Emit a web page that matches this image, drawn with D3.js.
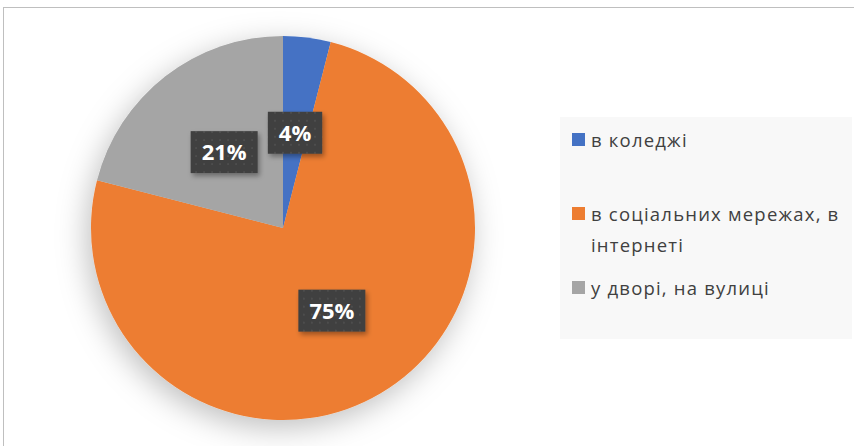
<!DOCTYPE html>
<html>
<head>
<meta charset="utf-8">
<script src="https://cdn.jsdelivr.net/npm/d3@7"></script>
<style>
  body { margin: 0; background: #fff; }
  svg { display: block; }
</style>
</head>
<body>
<div id="chart"></div>
<script>
// Data
const categories = ['в коледжі', 'в соціальних мережах, в інтернеті', 'у дворі, на вулиці'];
const legendLines = [['в коледжі'], ['в соціальних мережах, в', 'інтернеті'], ['у дворі, на вулиці']];
const values = [4, 75, 21];
const colors = ['#4472C4', '#ED7D31', '#A5A5A5'];

const W = 854, H = 446;
const cx = 283, cy = 228, radius = 192;

const svg = d3.select('#chart')
    .append('svg')
    .attr('width', W)
    .attr('height', H);

const defs = svg.append('defs');

// soft shadow under the pie
const pieShadow = defs.append('filter')
    .attr('id', 'pie-shadow')
    .attr('x', '-40%').attr('y', '-40%')
    .attr('width', '180%').attr('height', '180%');
pieShadow.append('feDropShadow')
    .attr('dx', -4).attr('dy', 8)
    .attr('stdDeviation', 15)
    .attr('flood-color', '#000')
    .attr('flood-opacity', 0.25);

// shadow for label boxes
const boxShadow = defs.append('filter')
    .attr('id', 'box-shadow')
    .attr('x', '-30%').attr('y', '-30%')
    .attr('width', '160%').attr('height', '160%');
boxShadow.append('feDropShadow')
    .attr('dx', 2).attr('dy', 3)
    .attr('stdDeviation', 2.5)
    .attr('flood-color', '#000')
    .attr('flood-opacity', 0.35);

// dotted pattern for label boxes
const dots = defs.append('pattern')
    .attr('id', 'dots')
    .attr('width', 8).attr('height', 8)
    .attr('patternUnits', 'userSpaceOnUse');
dots.append('rect').attr('width', 8).attr('height', 8).attr('fill', '#3f3f3f');
dots.append('rect').attr('x', 3).attr('y', 3).attr('width', 2).attr('height', 2).attr('fill', '#4d4d4d');

// Outer frame (only top and left edges visible)
svg.append('rect')
    .attr('x', 3.5).attr('y', 7.5)
    .attr('width', 900).attr('height', 500)
    .attr('fill', '#fff')
    .attr('stroke', '#bfbfbf')
    .attr('stroke-width', 1);

// Pie
const pie = d3.pie().sort(null).value(d => d);
const arc = d3.arc().innerRadius(0).outerRadius(radius);
const arcs = pie(values);

const g = svg.append('g')
    .attr('transform', `translate(${cx}, ${cy})`);

g.append('g')
    .attr('filter', 'url(#pie-shadow)')
    .selectAll('path')
    .data(arcs)
    .enter()
    .append('path')
    .attr('d', arc)
    .attr('fill', (d, i) => colors[i]);

// Data labels
const labels = g.selectAll('.label')
    .data(arcs)
    .enter()
    .append('g')
    .attr('class', 'label')
    .attr('transform', d => `translate(${arc.centroid(d)})`);

labels.each(function(d) {
    const lg = d3.select(this);
    const text = lg.append('text')
        .attr('text-anchor', 'middle')
        .attr('dy', '0.36em')
        .style('font-family', '"Open Sans", sans-serif')
        .style('font-weight', 'bold')
        .style('font-size', '22px')
        .attr('fill', '#fff')
        .text(`${d.data}%`);
    const bw = text.node().getComputedTextLength() + 22;
    const bh = 42;
    lg.insert('rect', 'text')
        .attr('x', -bw / 2).attr('y', -bh / 2)
        .attr('width', bw).attr('height', bh)
        .attr('fill', 'url(#dots)')
        .attr('filter', 'url(#box-shadow)');
});

// Legend
svg.append('rect')
    .attr('x', 560).attr('y', 117)
    .attr('width', 292).attr('height', 222)
    .attr('fill', '#f8f8f8');

const legendY = [147, 221, 295];
const legend = svg.selectAll('.legend-item')
    .data(categories)
    .enter()
    .append('g')
    .attr('class', 'legend-item')
    .attr('transform', (d, i) => `translate(572, ${legendY[i]})`);

legend.append('rect')
    .attr('x', 0).attr('y', -14)
    .attr('width', 13).attr('height', 13)
    .attr('fill', (d, i) => colors[i]);

legend.each(function(d, i) {
    const t = d3.select(this).append('text')
        .attr('x', 19).attr('y', 0)
        .style('font-family', '"Open Sans", sans-serif')
        .style('font-size', '18.5px')
        .style('letter-spacing', '1.2px')
        .attr('fill', '#404040');
    legendLines[i].forEach((line, j) => {
        t.append('tspan')
            .attr('x', 19)
            .attr('y', j * 31)
            .text(line);
    });
});
</script>
</body>
</html>
